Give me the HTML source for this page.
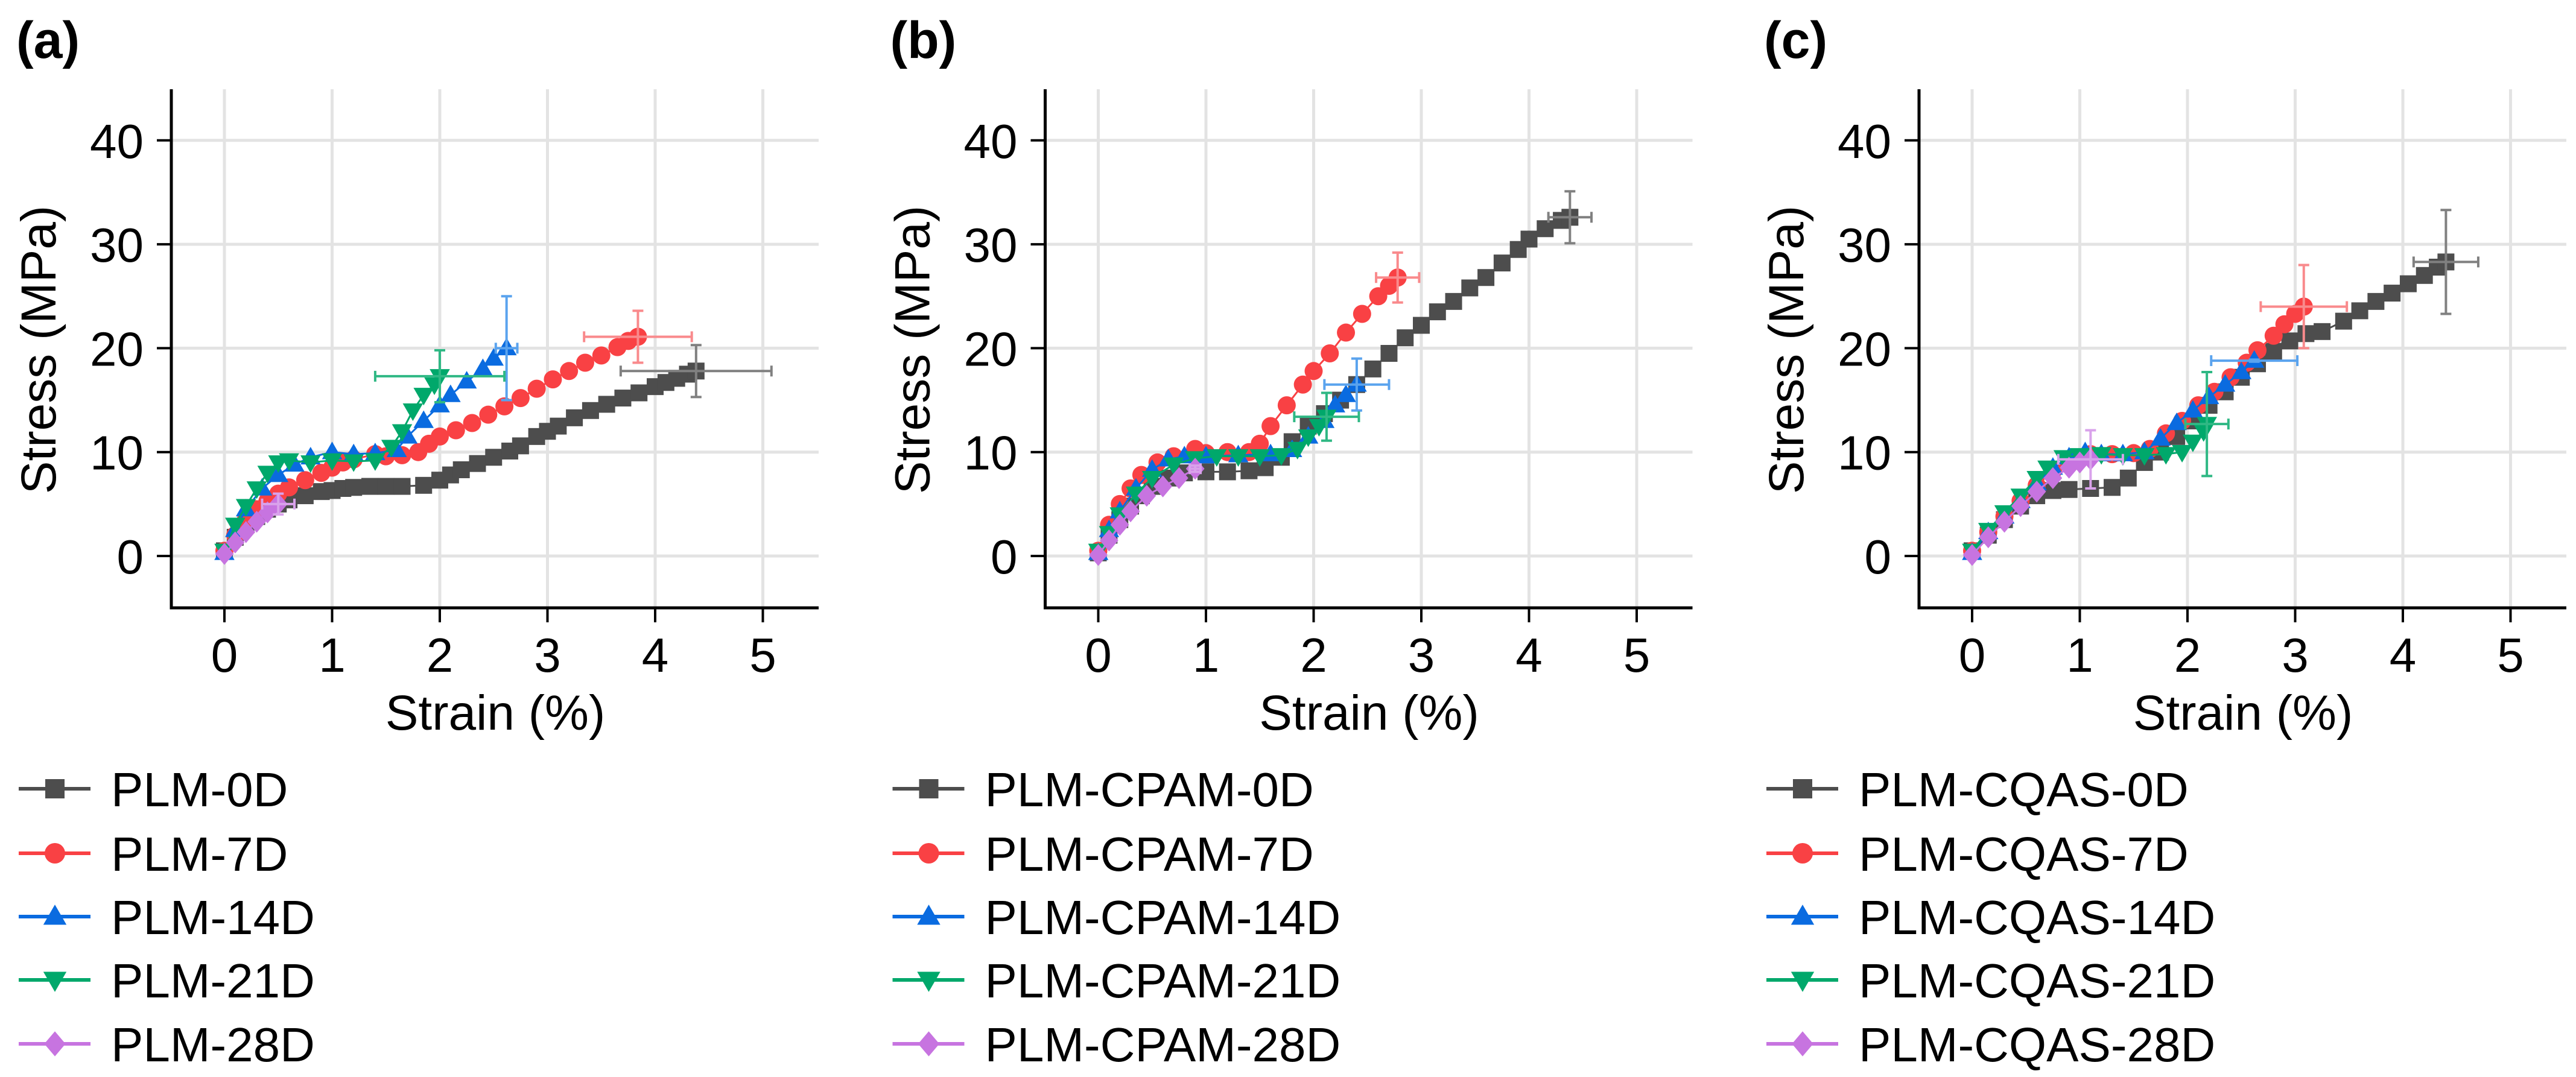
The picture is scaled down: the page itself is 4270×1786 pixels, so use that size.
<!DOCTYPE html>
<html><head><meta charset="utf-8"><style>
html,body{margin:0;padding:0;background:#fff;}
svg{display:block;font-family:"Liberation Sans",sans-serif;}
</style></head><body>
<svg id="fig" width="4270" height="1786" viewBox="0 0 4270 1786" xmlns="http://www.w3.org/2000/svg"></svg>
<script>
const panelLabels=["(a)","(b)","(c)"];
const seriesPrefixes=["PLM-","PLM-CPAM-","PLM-CQAS-"];
const seriesDays=["0D","7D","14D","21D","28D"];
const xTicks=[0,1,2,3,4,5];
const yTicks=[0,10,20,30,40];
// panel a
const a0x=[0,0.1,0.2,0.3,0.4,0.5,0.6,0.75,0.9,1.0,1.1,1.2,1.35,1.5,1.65,1.85,2.0,2.1,2.2,2.35,2.5,2.65,2.75,2.9,3.0,3.1,3.25,3.4,3.55,3.7,3.85,4.0,4.1,4.2,4.3,4.38];
const a0y=[0.5,1.8,3,3.8,4.5,5,5.4,5.8,6.2,6.3,6.5,6.6,6.7,6.7,6.7,6.8,7.3,7.8,8.3,8.9,9.5,10.1,10.6,11.5,12,12.5,13.3,14,14.6,15.2,15.7,16.3,16.7,17.1,17.5,17.8];
const a7x=[0,0.1,0.2,0.3,0.4,0.5,0.6,0.75,0.9,1.0,1.1,1.2,1.4,1.5,1.65,1.8,1.9,2.0,2.15,2.3,2.45,2.6,2.75,2.9,3.05,3.2,3.35,3.5,3.65,3.75,3.84];
const a7y=[0.5,2,3.5,4.5,5.3,6,6.6,7.3,8,8.5,9,9.3,9.8,9.6,9.7,10,10.8,11.5,12.1,12.8,13.6,14.4,15.2,16.1,17,17.8,18.6,19.3,20.1,20.7,21.1];
const a14x=[0,0.1,0.2,0.35,0.5,0.65,0.8,1.0,1.2,1.4,1.6,1.7,1.85,2.0,2.1,2.25,2.4,2.5,2.62];
const a14y=[0.3,2.5,4.5,6.5,7.8,8.8,9.5,10,9.8,9.9,10.2,11.5,13,14.5,15.5,16.8,18,19,20];
const a21x=[0,0.1,0.2,0.3,0.4,0.5,0.6,0.8,1.0,1.2,1.4,1.55,1.65,1.75,1.85,1.95,2.0];
const a21y=[0.5,3,4.8,6.5,8,9,9.2,9,9.2,9.1,9.2,10.5,12,14,15.5,16.5,17.3];
const a28x=[0,0.1,0.2,0.3,0.4,0.5];
const a28y=[0.2,1.3,2.3,3.3,4.2,5];
const aErrX=[0.7,0.5,0.1,0.6,0.15];
const aErrY=[2.5,2.5,5,2.5,1];
// panel b
const b0x=[0,0.1,0.2,0.3,0.4,0.5,0.65,0.8,1.0,1.2,1.4,1.55,1.7,1.8,1.95,2.1,2.25,2.4,2.55,2.7,2.85,3.0,3.15,3.3,3.45,3.6,3.75,3.9,4.0,4.15,4.3,4.38];
const b0y=[0.3,2,3.5,4.8,5.8,6.7,7.5,8,8.1,8.1,8.2,8.5,9.5,11,12.5,13.7,15,16.5,18,19.5,21,22.2,23.5,24.5,25.8,26.8,28.2,29.5,30.5,31.5,32.3,32.6];
const b7x=[0,0.1,0.2,0.3,0.4,0.55,0.7,0.9,1.0,1.2,1.4,1.5,1.6,1.75,1.9,2.0,2.15,2.3,2.45,2.6,2.7,2.78];
const b7y=[0.5,3,5,6.5,7.8,9,9.6,10.3,9.9,10,10,10.8,12.5,14.5,16.5,17.8,19.5,21.5,23.3,25,26,26.8];
const b14x=[0,0.1,0.2,0.35,0.5,0.65,0.8,1.0,1.3,1.6,1.8,1.95,2.1,2.2,2.3,2.4];
const b14y=[0.3,2.5,4.3,6.5,8.3,9.3,9.6,9.6,9.7,9.8,10.2,11.5,13,14.5,15.5,16.5];
const b21x=[0,0.1,0.2,0.35,0.5,0.7,0.9,1.1,1.3,1.5,1.7,1.85,1.95,2.05,2.12];
const b21y=[0.5,2.2,4,6,7.5,8.8,9.4,9.6,9.6,9.6,9.7,10.3,11.5,12.5,13.4];
const b28x=[0,0.1,0.2,0.3,0.45,0.6,0.75,0.9];
const b28y=[0.1,1.5,3,4.3,5.8,6.7,7.5,8.4];
const bErrX=[0.2,0.2,0.3,0.3,0.05];
const bErrY=[2.5,2.4,2.5,2.3,0.3];
// panel c
const c0x=[0,0.15,0.3,0.45,0.6,0.75,0.9,1.1,1.3,1.45,1.6,1.75,1.9,2.05,2.2,2.35,2.5,2.65,2.8,2.95,3.1,3.25,3.45,3.6,3.75,3.9,4.05,4.2,4.32,4.4];
const c0y=[0.5,2,3.5,4.8,5.8,6.3,6.4,6.5,6.6,7.5,9,10,11.5,13,14.5,15.8,17.2,18.5,19.7,20.7,21.4,21.6,22.6,23.6,24.5,25.3,26.2,27,27.8,28.3];
const c7x=[0,0.15,0.3,0.45,0.6,0.75,0.9,1.1,1.3,1.5,1.65,1.8,1.95,2.1,2.25,2.4,2.55,2.65,2.8,2.9,3.0,3.08];
const c7y=[0.5,2.3,3.8,5.3,6.8,8.2,9.3,9.8,9.8,9.9,10.3,11.8,13,14.5,15.8,17.2,18.6,19.8,21.2,22.3,23.3,24];
const c14x=[0,0.15,0.3,0.45,0.6,0.75,0.9,1.05,1.2,1.4,1.6,1.75,1.9,2.05,2.2,2.35,2.5,2.62];
const c14y=[0.3,2.3,3.8,5.3,7,8.5,9.5,10,9.8,9.8,10,11.3,12.8,14,15.3,16.5,17.7,18.8];
const c21x=[0,0.15,0.3,0.45,0.6,0.7,0.85,1.0,1.2,1.4,1.6,1.8,1.95,2.05,2.15,2.18];
const c21y=[0.5,2.5,4.2,5.8,7.5,8.5,9.5,9.7,9.8,9.7,9.7,9.8,10,11,12,12.7];
const c28x=[0,0.15,0.3,0.45,0.6,0.75,0.9,1.0,1.1];
const c28y=[0.1,1.8,3.3,4.8,6.2,7.5,8.5,9,9.3];
const cErrX=[0.3,0.4,0.4,0.2,0.3];
const cErrY=[5,4,0.1,5,2.8];

const colors=["#4d4d4d","#f94144","#0a6be0","#00a86b","#c774e0"];
const errColors=["#808080","#f98a8c","#5aa3ee","#2fb884","#d9a2eb"];
const markers=["square","circle","up","down","diamond"];
const panels=[
 {xs:[a0x,a7x,a14x,a21x,a28x],ys:[a0y,a7y,a14y,a21y,a28y],ex:aErrX,ey:aErrY},
 {xs:[b0x,b7x,b14x,b21x,b28x],ys:[b0y,b7y,b14y,b21y,b28y],ex:bErrX,ey:bErrY},
 {xs:[c0x,c7x,c14x,c21x,c28x],ys:[c0y,c7y,c14y,c21y,c28y],ex:cErrX,ey:cErrY}
];
const NS="http://www.w3.org/2000/svg";
const svg=document.getElementById('fig');
function mk(tag,attrs,parent){const e=document.createElementNS(NS,tag);for(const k in attrs)e.setAttribute(k,attrs[k]);(parent||svg).appendChild(e);return e;}
function marker(g,type,cx,cy,s,col){
 let e;
 if(type==="square"){e=mk('rect',{x:cx-s/2,y:cy-s/2,width:s,height:s,fill:col},g);}
 else if(type==="circle"){e=mk('circle',{cx:cx,cy:cy,r:s/2+1,fill:col},g);}
 else if(type==="up"){e=mk('polygon',{points:`${cx},${cy-s*0.62} ${cx-s*0.6},${cy+s*0.42} ${cx+s*0.6},${cy+s*0.42}`,fill:col},g);}
 else if(type==="down"){e=mk('polygon',{points:`${cx},${cy+s*0.62} ${cx-s*0.6},${cy-s*0.42} ${cx+s*0.6},${cy-s*0.42}`,fill:col},g);}
 else {e=mk('polygon',{points:`${cx},${cy-s*0.65} ${cx+s*0.55},${cy} ${cx},${cy+s*0.65} ${cx-s*0.55},${cy}`,fill:col},g);}
 return e;
}
const PW=1448.5;
panels.forEach((p,pi)=>{
 const ox=pi*PW;
 const X0=284+ox, X1=1357+ox, Yb=1008, Yt=148;
 const xs=v=>372+ox+v*178.5;
 const ys=v=>922-v*17.23;
 const g=mk('g',{});
 
 
 const lab=mk('text',{x:27+ox,y:96,'font-size':86,'font-weight':'bold',fill:'#000'},g);
 lab.textContent=panelLabels[pi];
 
 
 xTicks.forEach(t=>{const l=mk('line',{x1:xs(t),x2:xs(t),y1:Yt,y2:Yb,stroke:'#e3e3e3','stroke-width':5},g);
  });
 yTicks.forEach(t=>{const l=mk('line',{x1:X0,x2:X1,y1:ys(t),y2:ys(t),stroke:'#e3e3e3','stroke-width':5},g);
  });
 const ax=mk('path',{d:`M${X0},${Yt} L${X0},${Yb} L${X1},${Yb}`,fill:'none',stroke:'#000','stroke-width':5},g);
 
 xTicks.forEach(t=>{mk('line',{x1:xs(t),x2:xs(t),y1:Yb,y2:Yb+24,stroke:'#000','stroke-width':4},g);
  const tx=mk('text',{x:xs(t),y:1114,'font-size':80,'text-anchor':'middle',fill:'#000'},g);tx.textContent=t;
  });
 yTicks.forEach(t=>{mk('line',{x1:X0-24,x2:X0,y1:ys(t),y2:ys(t),stroke:'#000','stroke-width':4},g);
  const tx=mk('text',{x:X0-46,y:ys(t)+29,'font-size':80,'text-anchor':'end',fill:'#000'},g);tx.textContent=t;
  });
 const xt=mk('text',{x:821+ox,y:1210,'font-size':82,'text-anchor':'middle',fill:'#000'},g);xt.textContent='Strain (%)';
 
 const yt=mk('text',{x:0,y:0,'font-size':82,'text-anchor':'middle',fill:'#000',transform:`translate(${92+ox},580) rotate(-90)`},g);yt.textContent='Stress (MPa)';
 
 p.xs.forEach((sx,si)=>{
  const sy=p.ys[si];
  const sg=mk('g',{},g);
  
  
  const pts=sx.map((v,i)=>xs(v)+','+ys(sy[i])).join(' ');
  mk('polyline',{points:pts,fill:'none',stroke:colors[si],'stroke-width':3},sg);
  sx.forEach((v,i)=>{const m=marker(sg,markers[si],xs(v),ys(sy[i]),28,colors[si]);
   });
  const lx=sx[sx.length-1], ly=sy[sy.length-1];
  const eg=mk('g',{stroke:errColors[si],'stroke-width':4,fill:'none'},sg);
  
  const ex=p.ex[si], ey=p.ey[si];
  mk('line',{x1:xs(lx-ex),x2:xs(lx+ex),y1:ys(ly),y2:ys(ly)},eg);
  mk('line',{x1:xs(lx-ex),x2:xs(lx-ex),y1:ys(ly)-9,y2:ys(ly)+9},eg);
  mk('line',{x1:xs(lx+ex),x2:xs(lx+ex),y1:ys(ly)-9,y2:ys(ly)+9},eg);
  mk('line',{x1:xs(lx),x2:xs(lx),y1:ys(ly-ey),y2:ys(ly+ey)},eg);
  mk('line',{x1:xs(lx)-9,x2:xs(lx)+9,y1:ys(ly-ey),y2:ys(ly-ey)},eg);
  mk('line',{x1:xs(lx)-9,x2:xs(lx)+9,y1:ys(ly+ey),y2:ys(ly+ey)},eg);
 });
 const lg=mk('g',{},g);
 
 const legY=[1308,1415,1520,1625,1731];
 seriesDays.forEach((d,si)=>{
  const eg=mk('g',{},lg);
  
  const cy=legY[si];
  mk('line',{x1:31+ox,x2:150+ox,y1:cy,y2:cy,stroke:colors[si],'stroke-width':6},eg);
  marker(eg,markers[si],91+ox,cy,32,colors[si]);
  const t=mk('text',{x:184+ox,y:cy+29,'font-size':80,fill:'#000'},eg);
  t.textContent=seriesPrefixes[pi]+d;
 });
});
</script>
</body></html>
